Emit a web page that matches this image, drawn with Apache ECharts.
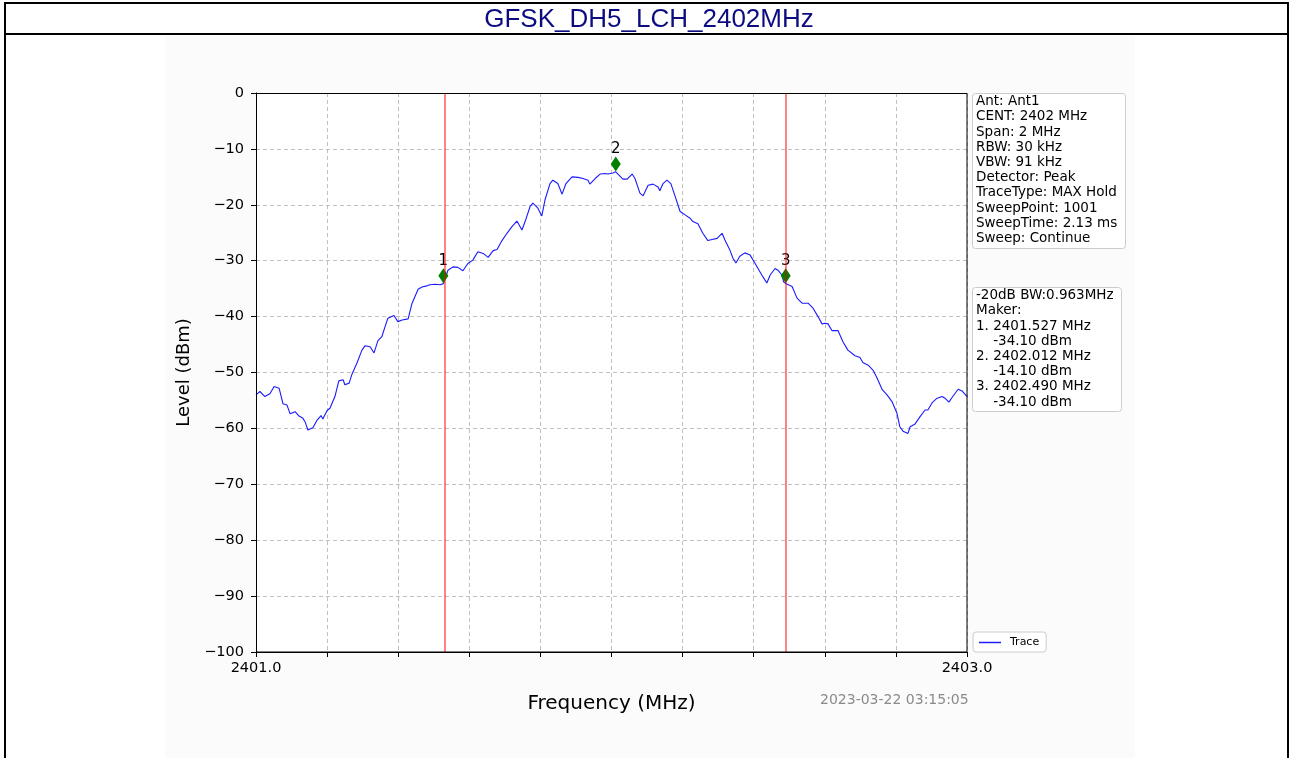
<!DOCTYPE html>
<html>
<head>
<meta charset="utf-8">
<title>GFSK_DH5_LCH_2402MHz</title>
<script src="https://cdn.jsdelivr.net/npm/echarts@6/dist/echarts.min.js"></script>
<style>
  html, body { margin: 0; padding: 0; background: #fff; }
  #chart { width: 1292px; height: 758px; }
</style>
</head>
<body>
<div id="chart"></div>
<script>
// trace (MHz, dBm)
var freqs = [
  2401.000, 2401.011, 2401.025, 2401.039, 2401.051, 2401.065, 2401.076, 2401.087, 2401.096, 2401.110,
  2401.121, 2401.132, 2401.138, 2401.146, 2401.160, 2401.172, 2401.183, 2401.188, 2401.200, 2401.208,
  2401.222, 2401.233, 2401.245, 2401.250, 2401.262, 2401.270, 2401.284, 2401.298, 2401.307, 2401.321,
  2401.332, 2401.343, 2401.354, 2401.363, 2401.371, 2401.388, 2401.399, 2401.411, 2401.428, 2401.439,
  2401.444, 2401.456, 2401.467, 2401.481, 2401.489, 2401.504, 2401.518, 2401.527, 2401.540, 2401.554,
  2401.568, 2401.582, 2401.596, 2401.610, 2401.624, 2401.639, 2401.653, 2401.667, 2401.678, 2401.692,
  2401.706, 2401.720, 2401.734, 2401.748, 2401.757, 2401.771, 2401.779, 2401.793, 2401.804, 2401.813,
  2401.827, 2401.835, 2401.849, 2401.861, 2401.872, 2401.889, 2401.906, 2401.920, 2401.934, 2401.939,
  2401.954, 2401.968, 2401.982, 2401.990, 2402.004, 2402.012, 2402.032, 2402.044, 2402.058, 2402.066,
  2402.080, 2402.089, 2402.103, 2402.117, 2402.131, 2402.136, 2402.145, 2402.156, 2402.167, 2402.179,
  2402.193, 2402.207, 2402.221, 2402.229, 2402.243, 2402.257, 2402.271, 2402.283, 2402.297, 2402.311,
  2402.319, 2402.333, 2402.342, 2402.350, 2402.361, 2402.375, 2402.390, 2402.404, 2402.415, 2402.426,
  2402.437, 2402.446, 2402.460, 2402.468, 2402.480, 2402.484, 2402.490, 2402.508, 2402.516, 2402.522,
  2402.536, 2402.553, 2402.567, 2402.581, 2402.592, 2402.601, 2402.609, 2402.620, 2402.637, 2402.651,
  2402.665, 2402.685, 2402.699, 2402.707, 2402.722, 2402.736, 2402.747, 2402.761, 2402.775, 2402.789,
  2402.803, 2402.811, 2402.820, 2402.834, 2402.840, 2402.854, 2402.868, 2402.882, 2402.890, 2402.902,
  2402.916, 2402.930, 2402.938, 2402.949, 2402.960, 2402.975, 2402.986, 2403.000
];
var levels = [
  -54.0, -53.4, -54.3, -53.8, -52.5, -52.8, -55.6, -55.8, -57.4, -57.0,
  -57.8, -58.2, -58.8, -60.3, -59.9, -58.5, -57.7, -58.3, -56.8, -56.4,
  -54.3, -51.5, -51.3, -52.2, -51.9, -50.3, -48.3, -46.0, -45.2, -45.4,
  -46.5, -44.3, -43.6, -41.8, -40.3, -39.8, -40.9, -40.6, -40.4, -37.6,
  -37.3, -35.1, -34.7, -34.5, -34.3, -34.2, -34.3, -34.1, -31.7, -31.1,
  -31.2, -31.8, -30.5, -29.9, -28.4, -28.7, -29.4, -28.2, -28.0, -26.4,
  -25.1, -23.9, -22.9, -24.5, -23.0, -20.3, -19.7, -20.6, -22.0, -19.1,
  -16.2, -15.6, -16.2, -18.1, -16.2, -15.0, -15.1, -15.3, -15.6, -16.3,
  -15.3, -14.5, -14.4, -14.5, -14.3, -14.1, -15.4, -15.4, -14.5, -15.3,
  -17.9, -18.4, -16.5, -16.3, -16.8, -17.5, -16.2, -15.6, -16.2, -18.5,
  -21.2, -21.8, -22.4, -23.0, -23.4, -25.1, -26.4, -26.2, -26.0, -25.1,
  -26.3, -28.1, -29.6, -30.4, -29.2, -28.6, -29.0, -30.5, -31.7, -32.9,
  -34.0, -32.6, -31.4, -31.7, -32.6, -33.8, -34.1, -34.6, -35.8, -36.7,
  -37.6, -37.6, -38.5, -40.0, -41.3, -41.2, -41.3, -42.5, -42.5, -44.5,
  -46.0, -47.0, -47.3, -48.2, -48.7, -49.6, -51.0, -53.0, -54.0, -55.2,
  -57.3, -59.7, -60.5, -60.9, -59.7, -59.2, -57.9, -56.7, -56.7, -55.4,
  -54.6, -54.3, -54.6, -55.3, -54.3, -53.0, -53.3, -54.3
];

var markerFreqs = [2401.527, 2402.012, 2402.490];
var markerLevels = [-34.10, -14.10, -34.10];
var markerOffset = 1.4; // diamonds sit a bit above the trace in the original
// -20 dB bandwidth edges (red lines) = markers 1 and 3
var bwEdges = [markerFreqs[0], markerFreqs[2]];

var infoLines = [
  'Ant: Ant1', 'CENT: 2402 MHz', 'Span: 2 MHz', 'RBW: 30 kHz', 'VBW: 91 kHz',
  'Detector: Peak', 'TraceType: MAX Hold', 'SweepPoint: 1001', 'SweepTime: 2.13 ms', 'Sweep: Continue'
];
var bwText = '-20dB BW:0.963MHz';
var timeStamp = '2023-03-22 03:15:05';

var traceData = freqs.map(function (f, i) { return [f, levels[i]]; });
var markerData = markerFreqs.map(function (f, i) { return [f, markerLevels[i] + markerOffset]; });

var makerLines = [bwText, 'Maker:'];
markerFreqs.forEach(function (f, i) {
  makerLines.push((i + 1) + '. ' + f.toFixed(3) + ' MHz');
  makerLines.push('    ' + markerLevels[i].toFixed(2) + ' dBm');
});

var font = 'DejaVu Sans';
var chart = echarts.init(document.getElementById('chart'));

chart.setOption({
  animation: false,
  backgroundColor: '#fff',
  textStyle: { fontFamily: font },
  grid: {
    left: 256, top: 93, width: 711, height: 559,
    show: false
  },
  legend: {
    data: [{ name: 'Trace', icon: 'path://M0,0H30V2H0Z' }],
    left: 973, top: 632,
    backgroundColor: '#fff',
    borderColor: '#ccc', borderWidth: 1, borderRadius: 3,
    padding: [5, 7, 4, 6],
    itemWidth: 22, itemHeight: 1.5, itemGap: 4,
    textStyle: { fontSize: 11, color: '#000', fontFamily: font, padding: [0, 0, 0, 4] }
  },
  xAxis: {
    type: 'value',
    min: 2401, max: 2403, interval: 0.2,
    name: 'Frequency (MHz)',
    nameLocation: 'middle',
    nameGap: 42,
    nameTextStyle: { fontSize: 20, color: '#000', fontFamily: font },
    axisLine: { onZero: false, lineStyle: { color: '#000', width: 1 } },
    axisTick: { show: true, length: 5, lineStyle: { color: '#000' } },
    axisLabel: {
      margin: 9, fontSize: 14.5, color: '#000', fontFamily: font, showMinLabel: true, showMaxLabel: true,
      formatter: function (v) {
        return (Math.abs(v - 2401) < 1e-6 || Math.abs(v - 2403) < 1e-6) ? v.toFixed(1) : '';
      }
    },
    splitLine: { show: true, lineStyle: { color: '#b0b0b0', type: [4, 3], width: 0.8 } }
  },
  yAxis: {
    type: 'value',
    min: -100, max: 0, interval: 10,
    name: 'Level (dBm)',
    nameLocation: 'middle',
    nameGap: 63,
    nameTextStyle: { fontSize: 18, color: '#000', fontFamily: font },
    axisLine: { show: true, lineStyle: { color: '#000', width: 1 } },
    axisTick: { show: true, length: 5, lineStyle: { color: '#000' } },
    axisLabel: {
      margin: 12, fontSize: 14.5, color: '#000', fontFamily: font,
      formatter: function (v) { return v < 0 ? '\u2212' + Math.abs(v) : String(v); }
    },
    splitLine: { show: true, lineStyle: { color: '#b0b0b0', type: [4, 3], width: 0.8 } }
  },
  series: [
    {
      name: 'Trace',
      type: 'line',
      data: traceData,
      symbol: 'none',
      z: 3,
      lineStyle: { color: '#1a1aff', width: 1.1 },
      itemStyle: { color: '#1a1aff' },
      markLine: {
        silent: true,
        symbol: 'none',
        label: { show: false },
        lineStyle: { color: 'rgba(255,0,0,0.65)', width: 1.5, type: 'solid' },
        data: bwEdges.map(function (f) { return { xAxis: f }; })
      }
    },
    {
      name: 'Marker',
      type: 'scatter',
      data: markerData,
      symbol: 'diamond',
      symbolSize: [10, 15],
      z: 4,
      itemStyle: { color: '#007f00', opacity: 1 },
      label: {
        show: true, position: 'top', distance: 0,
        fontSize: 15, color: '#000', fontFamily: font,
        formatter: function (p) { return String(p.dataIndex + 1); }
      }
    }
  ],
  graphic: [
    { type: 'rect', z: -10, silent: true, shape: { x: 165, y: 36, width: 970, height: 722 }, style: { fill: '#fbfbfb' } },
    { type: 'rect', z: -9, silent: true, shape: { x: 256, y: 93, width: 711, height: 559 }, style: { fill: '#fff' } },
    { type: 'rect', z: 50, silent: true, shape: { x: 256.5, y: 93.5, width: 710.5, height: 558.5 }, style: { fill: 'none', stroke: '#000', lineWidth: 1 } },
    { type: 'rect', z: 100, silent: true, shape: { x: 5, y: 3, width: 1283, height: 800 }, style: { fill: 'none', stroke: '#000', lineWidth: 2 } },
    { type: 'line', z: 100, silent: true, shape: { x1: 5, y1: 34, x2: 1288, y2: 34 }, style: { stroke: '#000', lineWidth: 2 } },
    { type: 'text', z: 101, silent: true, x: 649, y: 20,
      style: { text: 'GFSK_DH5_LCH_2402MHz', font: '26px "Liberation Sans"', fill: '#0c0c80', align: 'center', verticalAlign: 'middle' } },
    { type: 'rect', z: 10, silent: true, shape: { x: 972.5, y: 93.5, width: 153, height: 155, r: 3 }, style: { fill: '#fff', stroke: '#ccc', lineWidth: 1 } },
    { type: 'text', z: 11, silent: true, left: 976, top: 94,
      style: { text: infoLines.join('\n'), font: '13.5px "DejaVu Sans"', fill: '#000', lineHeight: 15.2 } },
    { type: 'rect', z: 10, silent: true, shape: { x: 972.5, y: 287.5, width: 149, height: 124, r: 3 }, style: { fill: '#fff', stroke: '#ccc', lineWidth: 1 } },
    { type: 'text', z: 11, silent: true, left: 976, top: 288,
      style: { text: makerLines.join('\n'), font: '13.5px "DejaVu Sans"', fill: '#000', lineHeight: 15.2 } },
    { type: 'text', z: 11, silent: true, left: 820, top: 693,
      style: { text: timeStamp, font: '14px "DejaVu Sans"', fill: '#8a8a8a' } }
  ]
});
</script>
</body>
</html>
